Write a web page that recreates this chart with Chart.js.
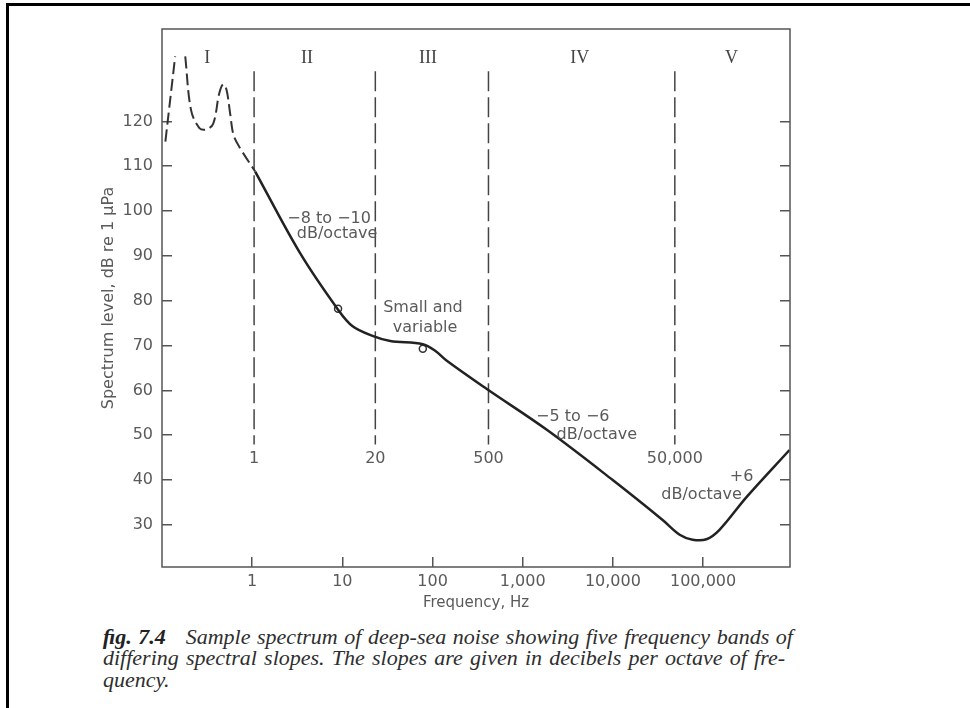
<!DOCTYPE html>
<html>
<head>
<meta charset="utf-8">
<script src="https://cdn.jsdelivr.net/npm/chart.js@4.4.1/dist/chart.umd.min.js"></script>
<style>
  html, body { margin: 0; padding: 0; background: #fff; }
  #page { position: relative; width: 970px; height: 708px; overflow: hidden; }
  #frame { position: absolute; left: 6px; top: 3px; width: 1000px; height: 800px; border-left: 3px solid #000; border-top: 3px solid #000; }
  #chart { position: absolute; left: 0; top: 0; }
  .cap { position: absolute; left: 103px; font-family: 'Liberation Serif', serif; font-style: italic; font-size: 22px; line-height: 21.5px; color: #2e2e2e; white-space: nowrap; }
  .just { text-align: justify; text-align-last: justify; }
  .cap b { font-weight: bold; color: #222; }
</style>
</head>
<body>
<div id="page">
  <div id="frame"></div>
  <canvas id="chart" width="970" height="620"></canvas>
  <div class="cap just" style="top:626px; width:690px;"><b>ﬁg. 7.4</b>&nbsp;&nbsp; Sample spectrum of deep-sea noise showing five frequency bands of</div>
  <div class="cap just" style="top:647px; width:682px;">differing spectral slopes. The slopes are given in decibels per octave of fre-</div>
  <div class="cap" style="top:669px;">quency.</div>
</div>
<script>
// solid part of the spectrum (Hz, dB)
const curveHz = [1.08, 3.4, 8.96, 13, 22, 34, 78, 106, 144, 400, 1850, 9950, 35600, 55000, 76500, 109000, 152000, 303000, 908000];
const curveDb = [108.8, 90.6, 78.0, 74.3, 72.1, 71.0, 70.3, 68.9, 66.6, 60.3, 51.2, 40.0, 31.1, 27.8, 26.7, 26.8, 28.9, 36.2, 46.7];

// dashed part in band I (null = open top of the first peak)
const dashedHz = [0.109, 0.14, 0.16, 0.181, 0.21, 0.26, 0.31, 0.37, 0.431, 0.477, 0.52, 0.571, 0.62, 0.72, 1.08];
const dashedDb = [115.5, 134.5, null, 134.5, 122.5, 118.5, 118.2, 119.5, 126.2, 128.3, 127.0, 121.6, 117.0, 114.3, 108.8];

// small marks on the curve
const markHz = [8.96, 78];
const markDb = [78.2, 69.3];

// band boundaries
const boundaryHz = [1.05, 23.2, 417, 48600];
const boundaryLabels = ['1', '20', '500', '50,000'];
const boundaryTop = 131.2;
const boundaryBottom = 47.9;
const boundaryLabelDb = 44.7;

const bandLabels = ['I', 'II', 'III', 'IV', 'V'];
const bandHz = [0.318, 4.06, 89, 4290, 207000];
const bandDb = 134.1;

const noteText = ['\u22128 to \u221210', 'dB/octave', 'Small and', 'variable', '\u22125 to \u22126', 'dB/octave', '+6', 'dB/octave'];
const noteHz = [7.13, 8.74, 78.3, 82.7, 3590, 6620, 267000, 96200];
const noteDb = [98.3, 94.8, 78.3, 74.0, 54.2, 50.0, 40.7, 36.8];

const xTicks = [1, 10, 100, 1000, 10000, 100000];
const xTickLabels = ['1', '10', '100', '1,000', '10,000', '100,000'];
const yTicks = [30, 40, 50, 60, 70, 80, 90, 100, 110, 120];

const textGrey = '#5a5a5a';
const tickFont = { family: 'DejaVu Sans', size: 16 };

const pts = (xs, ys) => xs.map((x, i) => ({ x: x, y: ys[i] }));

const boundarySets = boundaryHz.map(b => ({
    data: [{ x: b, y: boundaryTop }, { x: b, y: boundaryBottom }],
    borderColor: '#444',
    borderWidth: 1.5,
    borderDash: [20, 6],
    pointRadius: 0
}));

const notesPlugin = {
    id: 'notes',
    afterDatasetsDraw(chart) {
        const { ctx, chartArea: a, scales: { x, y } } = chart;
        ctx.save();
        ctx.strokeStyle = '#555';
        ctx.lineWidth = 1.5;
        ctx.strokeRect(a.left, a.top, a.right - a.left, a.bottom - a.top);

        ctx.textAlign = 'center';
        ctx.textBaseline = 'middle';
        ctx.fillStyle = textGrey;
        ctx.font = '16px "DejaVu Sans"';
        noteText.forEach((t, i) => {
            ctx.fillText(t, x.getPixelForValue(noteHz[i]), y.getPixelForValue(noteDb[i]));
        });
        boundaryLabels.forEach((t, i) => {
            ctx.fillText(t, x.getPixelForValue(boundaryHz[i]), y.getPixelForValue(boundaryLabelDb));
        });

        ctx.fillStyle = '#444';
        ctx.font = '18px "Liberation Serif"';
        bandLabels.forEach((t, i) => {
            ctx.fillText(t, x.getPixelForValue(bandHz[i]), y.getPixelForValue(bandDb));
        });
        ctx.restore();
    }
};

const ctx = document.getElementById('chart').getContext('2d');
new Chart(ctx, {
    type: 'line',
    data: {
        datasets: [
            {
                data: pts(curveHz, curveDb),
                borderColor: '#222',
                borderWidth: 2.5,
                pointRadius: 0,
                tension: 0.35
            },
            {
                data: pts(dashedHz, dashedDb),
                borderColor: '#333',
                borderWidth: 2,
                borderDash: [12, 5],
                pointRadius: 0,
                spanGaps: false,
                tension: 0.35
            },
            {
                data: pts(markHz, markDb),
                showLine: false,
                pointRadius: 3.5,
                pointBorderWidth: 1.5,
                pointBorderColor: '#333',
                pointBackgroundColor: 'rgba(0,0,0,0)'
            },
            ...boundarySets
        ]
    },
    options: {
        responsive: false,
        animation: false,
        layout: { padding: { left: 95, top: 29, right: 180, bottom: 4 } },
        plugins: { legend: { display: false }, tooltip: { enabled: false } },
        scales: {
            x: {
                type: 'logarithmic',
                position: 'bottom',
                min: 0.1,
                max: 920000,
                afterBuildTicks: s => { s.ticks = xTicks.map(v => ({ value: v })); },
                afterFit: s => { s.height = 49; },
                grid: { drawOnChartArea: false, tickLength: -10, color: '#555', lineWidth: 1.5 },
                border: { display: false },
                ticks: {
                    autoSkip: false,
                    maxRotation: 0,
                    padding: 15,
                    color: textGrey,
                    font: tickFont,
                    callback: v => xTickLabels[xTicks.indexOf(v)]
                },
                title: { display: true, text: 'Frequency, Hz', color: textGrey, font: { family: 'DejaVu Sans', size: 15 }, padding: { top: 0, bottom: 4 } }
            },
            y: {
                position: 'left',
                min: 20.6,
                max: 140.6,
                afterBuildTicks: s => { s.ticks = yTicks.map(v => ({ value: v })); },
                afterFit: s => { s.width = 67; },
                grid: { drawOnChartArea: false, tickLength: -10, color: '#555', lineWidth: 1.5 },
                border: { display: false },
                ticks: { padding: 19, color: textGrey, font: tickFont },
                title: { display: true, text: 'Spectrum level, dB re 1 \u03bcPa', color: textGrey, font: { family: 'DejaVu Sans', size: 16 }, padding: { top: 4, bottom: 0 } }
            },
            y2: {
                position: 'right',
                min: 20.6,
                max: 140.6,
                afterBuildTicks: s => { s.ticks = yTicks.map(v => ({ value: v })); },
                afterFit: s => { s.width = 0; },
                grid: { drawOnChartArea: false, tickLength: -10, color: '#555', lineWidth: 1.5 },
                border: { display: false },
                ticks: { display: false }
            }
        }
    },
    plugins: [notesPlugin]
});
</script>
</body>
</html>
